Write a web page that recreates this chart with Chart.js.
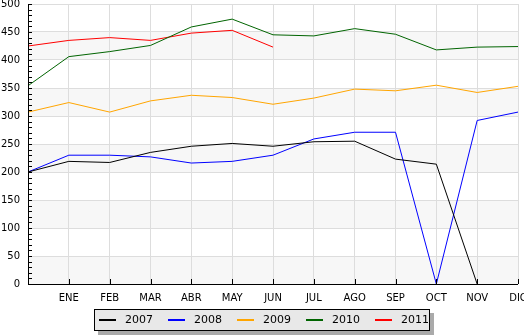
<!DOCTYPE html>
<html>
<head>
<meta charset="utf-8">
<script src="https://cdn.jsdelivr.net/npm/chart.js@4/dist/chart.umd.min.js"></script>
<style>
  html, body { margin: 0; padding: 0; background: #fff; }
  #wrap { width: 524px; height: 336px; position: relative; }
</style>
</head>
<body>
<div id="wrap"><canvas id="chart" width="524" height="336"></canvas></div>
<script>
// --- data ---
const months = ['', 'ENE', 'FEB', 'MAR', 'ABR', 'MAY', 'JUN', 'JUL', 'AGO', 'SEP', 'OCT', 'NOV', 'DIC'];
const years = ['2007', '2008', '2009', '2010', '2011'];
const colors = ['#000000', '#0000ff', '#ffa500', '#006400', '#ff0000'];

const v2007 = [200, 219, 217, 235, 246, 251, 246, 254, 255, 223, 214, 0, null];
const v2008 = [200, 230, 230, 227, 216, 219, 230, 259, 271, 271, 0, 292, 307];
const v2009 = [307, 324, 307, 327, 337, 333, 321, 332, 348, 345, 355, 342, 353];
const v2010 = [354, 406, 415, 426, 459, 473, 445, 443, 456, 446, 418, 423, 424];
const v2011 = [425, 435, 440, 435, 448, 453, 423];

const yMin = 0, yMax = 500, yStep = 50, yMinor = 10;

const FONT = '10px "DejaVu Sans"';

// shaded bands + axes drawn by hand so ticks sit inside the plot
const frame = {
  id: 'frame',
  beforeDraw(chart) {
    const { ctx, chartArea: a, scales: { y } } = chart;
    ctx.save();
    ctx.fillStyle = '#f7f7f7';
    for (let v = yMin; v < yMax; v += yStep * 2) {
      const top = y.getPixelForValue(v + yStep), bot = y.getPixelForValue(v);
      ctx.fillRect(a.left, top, a.right - a.left, bot - top);
    }
    ctx.restore();
  },
  afterDraw(chart) {
    const { ctx, chartArea: a, scales: { x, y } } = chart;
    ctx.save();
    ctx.strokeStyle = '#000';
    ctx.lineWidth = 1;
    ctx.beginPath();
    ctx.moveTo(a.left + 0.5, a.top);
    ctx.lineTo(a.left + 0.5, a.bottom + 0.5);
    ctx.lineTo(a.right, a.bottom + 0.5);
    for (let v = yMin; v <= yMax; v += yMinor) {
      const py = Math.round(y.getPixelForValue(v)) + 0.5;
      ctx.moveTo(a.left, py);
      ctx.lineTo(a.left + 4, py);
    }
    for (let i = 1; i < months.length; i++) {
      const px = Math.round(x.getPixelForValue(i)) + 0.5;
      ctx.moveTo(px, a.bottom);
      ctx.lineTo(px, a.bottom - 5);
    }
    ctx.stroke();

    // legend box
    const bx = 94, by = 309, bw = 336, bh = 22;
    ctx.fillStyle = '#aaaaaa';
    ctx.fillRect(bx + 4, by + 4, bw, bh);
    ctx.fillStyle = '#e8e8e8';
    ctx.fillRect(bx, by, bw, bh);
    ctx.strokeStyle = '#000';
    ctx.strokeRect(bx + 0.5, by + 0.5, bw - 1, bh - 1);
    ctx.font = '11px "DejaVu Sans"';
    ctx.textBaseline = 'middle';
    chart.data.datasets.forEach((ds, i) => {
      const sx = bx + 5 + i * 69;
      ctx.strokeStyle = ds.borderColor;
      ctx.lineWidth = 2;
      ctx.beginPath();
      ctx.moveTo(sx, by + 11);
      ctx.lineTo(sx + 17, by + 11);
      ctx.stroke();
      ctx.fillStyle = '#000';
      ctx.fillText(ds.label, sx + 26, by + 11.5);
    });
    ctx.restore();
  }
};

const series = [v2007, v2008, v2009, v2010, v2011];

new Chart(document.getElementById('chart'), {
  type: 'line',
  data: {
    labels: months,
    datasets: series.map((vals, i) => ({
      label: years[i],
      data: vals,
      borderColor: colors[i],
      backgroundColor: colors[i],
      borderWidth: 1,
      pointRadius: 0,
      tension: 0,
      spanGaps: false
    }))
  },
  options: {
    responsive: false,
    animation: false,
    events: [],
    layout: { padding: { top: 4, right: 6, bottom: 32, left: 0 } },
    plugins: { legend: { display: false }, tooltip: { enabled: false } },
    scales: {
      x: {
        offset: false,
        grid: { color: '#dddddd', lineWidth: 1, drawTicks: false },
        border: { display: false },
        ticks: { color: '#000', font: { family: 'DejaVu Sans', size: 10 }, padding: 8, maxRotation: 0, autoSkip: false },
        afterFit(s) { s.height = 20; s.paddingLeft = 0; s.paddingRight = 0; }
      },
      y: {
        min: yMin, max: yMax,
        grid: { color: '#dddddd', lineWidth: 1, drawTicks: false },
        border: { display: false },
        ticks: { stepSize: yStep, color: '#000', font: { family: 'DejaVu Sans', size: 10 }, padding: 8 },
        afterFit(s) { s.width = 28; s.paddingTop = 0; s.paddingBottom = 0; }
      }
    }
  },
  plugins: [frame]
});
</script>
</body>
</html>
